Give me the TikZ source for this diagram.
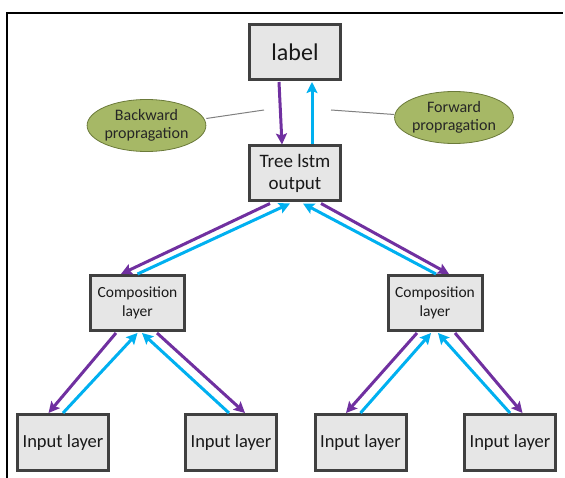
\documentclass[tikz,border=0pt]{standalone}
\usepackage{fontspec}
\setmainfont{Carlito}
\usetikzlibrary{arrows.meta,shadows,calc,shapes.geometric}
\definecolor{bpurple}{HTML}{7030A0}
\definecolor{fblue}{HTML}{00B0F0}
\definecolor{boxfill}{HTML}{E6E6E6}
\definecolor{boxline}{HTML}{404040}
\definecolor{olive}{HTML}{A6B866}
\definecolor{oliveline}{HTML}{6B7A3A}
\begin{document}
\begin{tikzpicture}[x=1pt,y=-1pt,
  layerbox/.style={draw=boxline,fill=boxfill,line width=3pt,inner sep=1pt,
    align=center,text=black!90,
    drop shadow={shadow xshift=1.5pt,shadow yshift=-1.5pt,opacity=0.25}},
  tag/.style={ellipse,draw=oliveline,fill=olive,line width=0.8pt,inner sep=0pt,
    align=center,text=black!85,font=\fontsize{16}{18}\selectfont,
    minimum width=112pt,minimum height=52pt},
  back/.style={draw=bpurple,line width=3pt,-{Stealth[length=11pt,width=11pt,inset=2pt]}},
  fwd/.style={draw=fblue,line width=3pt,-{Stealth[length=11pt,width=11pt,inset=2pt]}},
  leader/.style={draw=gray,line width=1pt}]
\useasboundingbox (0,0) rectangle (565,478);
\draw[line width=1.2pt] (7,478) -- (7,13) -- (563,13);

\node[layerbox,minimum width=91pt,minimum height=55pt,font=\fontsize{24}{27}\selectfont] (label) at (295,52) {label};
\node[layerbox,minimum width=91pt,minimum height=55pt,font=\fontsize{19}{22}\selectfont] (tree) at (295,173.5) {Tree lstm\\output};
\node[layerbox,minimum width=94pt,minimum height=55pt,font=\fontsize{15.5}{19}\selectfont] (compL) at (137.5,303) {Composition\\layer};
\node[layerbox,minimum width=94pt,minimum height=55pt,font=\fontsize{15.5}{19}\selectfont] (compR) at (435,303) {Composition\\layer};
\node[layerbox,minimum width=91pt,minimum height=56pt,font=\fontsize{18.5}{22}\selectfont] (in1) at (63,442.5) {Input layer};
\node[layerbox,minimum width=91pt,minimum height=56pt,font=\fontsize{18.5}{22}\selectfont] (in2) at (231,442.5) {Input layer};
\node[layerbox,minimum width=91pt,minimum height=56pt,font=\fontsize{18.5}{22}\selectfont] (in3) at (360.5,442.5) {Input layer};
\node[layerbox,minimum width=91pt,minimum height=56pt,font=\fontsize{18.5}{22}\selectfont] (in4) at (510,442.5) {Input layer};

\node[tag] (bp) at (146.5,125.5) {Backward\\propragation};
\node[tag] (fp) at (454,117.5) {Forward\\propragation};
\coordinate (bpend) at (264,110);
\coordinate (fpend) at (331,110);
\draw[leader] (bp.east) ++(0,-7) -- (bpend);
\draw[leader] (fpend) -- ($(fp.west)+(0,-3)$);

% label <-> tree
\draw[back] ([xshift=-16pt,yshift=-1pt]label.south) -- ([xshift=-13pt]tree.north);
\draw[fwd] ([xshift=17pt]tree.north) -- ([xshift=17pt,yshift=-1pt]label.south);

% tree <-> compositions
\draw[back] ([xshift=-25pt,yshift=-1pt]tree.south) -- ([xshift=-16.5pt]compL.north);
\draw[fwd] ([xshift=0pt]compL.north) -- ([xshift=-5pt,yshift=-1pt]tree.south);
\draw[fwd] ([xshift=1pt]compR.north) -- ([xshift=8pt,yshift=-1pt]tree.south);
\draw[back] ([xshift=26pt,yshift=-1pt]tree.south) -- ([xshift=14pt]compR.north);

% compL <-> inputs
\draw[back] ([xshift=-21.5pt,yshift=-1pt]compL.south) -- ([xshift=-14.5pt]in1.north);
\draw[fwd] ([xshift=0pt]in1.north) -- ([xshift=0pt,yshift=-1pt]compL.south);
\draw[fwd] ([xshift=-2pt]in2.north) -- ([xshift=4.5pt,yshift=-1pt]compL.south);
\draw[back] ([xshift=19.5pt,yshift=-1pt]compL.south) -- ([xshift=14pt]in2.north);

% compR <-> inputs
\draw[back] ([xshift=-18pt,yshift=-1pt]compR.south) -- ([xshift=-14.5pt]in3.north);
\draw[fwd] ([xshift=0pt]in3.north) -- ([xshift=-4pt,yshift=-1pt]compR.south);
\draw[fwd] ([xshift=0pt]in4.north) -- ([xshift=3pt,yshift=-1pt]compR.south);
\draw[back] ([xshift=20pt,yshift=-1pt]compR.south) -- ([xshift=12.5pt]in4.north);
\end{tikzpicture}
\end{document}
